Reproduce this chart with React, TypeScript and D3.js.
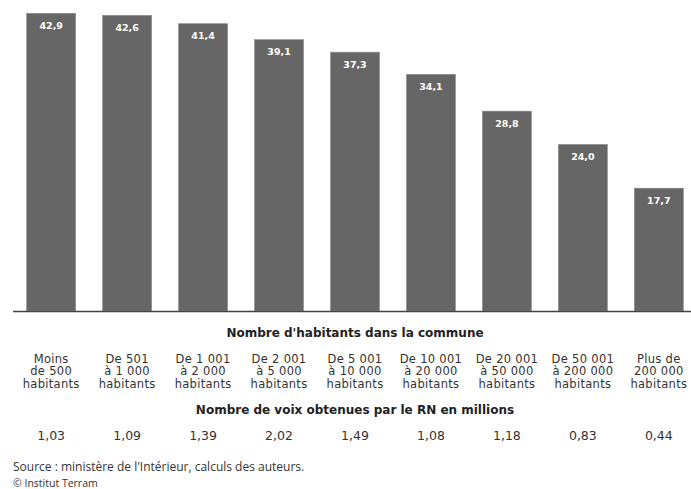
import React from "react";
import * as d3 from "d3";

const categories = [
  ["Moins", "de 500", "habitants"],
  ["De 501", "à 1 000", "habitants"],
  ["De 1 001", "à 2 000", "habitants"],
  ["De 2 001", "à 5 000", "habitants"],
  ["De 5 001", "à 10 000", "habitants"],
  ["De 10 001", "à 20 000", "habitants"],
  ["De 20 001", "à 50 000", "habitants"],
  ["De 50 001", "à 200 000", "habitants"],
  ["Plus de", "200 000", "habitants"],
];
const shares = [42.9, 42.6, 41.4, 39.1, 37.3, 34.1, 28.8, 24.0, 17.7];
const votes = ["1,03", "1,09", "1,39", "2,02", "1,49", "1,08", "1,18", "0,83", "0,44"];
const title1 = "Nombre d'habitants dans la commune";
const title2 = "Nombre de voix obtenues par le RN en millions";
const source = "Source : ministère de l'Intérieur, calculs des auteurs.";
const credit = "© Institut Terram";

const W = 691;
const H = 489;
const FONT = "'Open Sans', 'DejaVu Sans', sans-serif";
const WIDE = "'DejaVu Sans', sans-serif";

export default function App() {
  const idx = categories.map((_, i) => String(i));
  const x = d3.scaleBand().domain(idx).range([13, 697]).paddingInner(0.355).paddingOuter(0.18);
  const y = d3.scaleLinear().domain([0, 42.9]).range([311, 13.3]);
  const fmt = (v: number) => v.toFixed(1).replace(".", ",");
  const cx = (i: number) => (x(String(i)) as number) + x.bandwidth() / 2;
  return (
    <svg width={W} height={H} style={{ position: "absolute", left: 0, top: 0, background: "#fff" }} fontFamily={FONT}>
      {shares.map((v, i) => (
        <g key={i}>
          <rect x={x(String(i))} y={y(v)} width={x.bandwidth()} height={y(0) - y(v)} fill="#666666" stroke="#8a8a8a" strokeWidth={0.6} />
          <text x={cx(i)} y={y(v) + 15.5} textAnchor="middle" fill="#fff" fontWeight={700} fontSize={9.5} fontFamily={WIDE}>{fmt(v)}</text>
        </g>
      ))}
      <line x1={13} x2={691} y1={311.5} y2={311.5} stroke="#444" strokeWidth={1.5} />
      <text x={355} y={337} textAnchor="middle" fontWeight={700} fontSize={12} fill="#222" fontFamily={WIDE}>{title1}</text>
      {categories.map((lines, i) => (
        <text key={i} x={cx(i)} textAnchor="middle" fontSize={11.5} letterSpacing={0.3} fill="#333" fontFamily={WIDE}>
          {lines.map((l, j) => (
            <tspan key={j} x={cx(i)} y={362.5 + j * 12.5}>{l}</tspan>
          ))}
        </text>
      ))}
      <text x={355} y={413.5} textAnchor="middle" fontWeight={700} fontSize={12} fill="#222" fontFamily={WIDE}>{title2}</text>
      {votes.map((v, i) => (
        <text key={i} x={cx(i)} y={439.5} textAnchor="middle" fontSize={12.5} fill="#333" fontFamily={WIDE}>{v}</text>
      ))}
      <text x={13} y={471} fontSize={12} fill="#333">{source}</text>
      <text x={13} y={486.5} fontSize={10.5} fill="#333">{credit}</text>
    </svg>
  );
}
